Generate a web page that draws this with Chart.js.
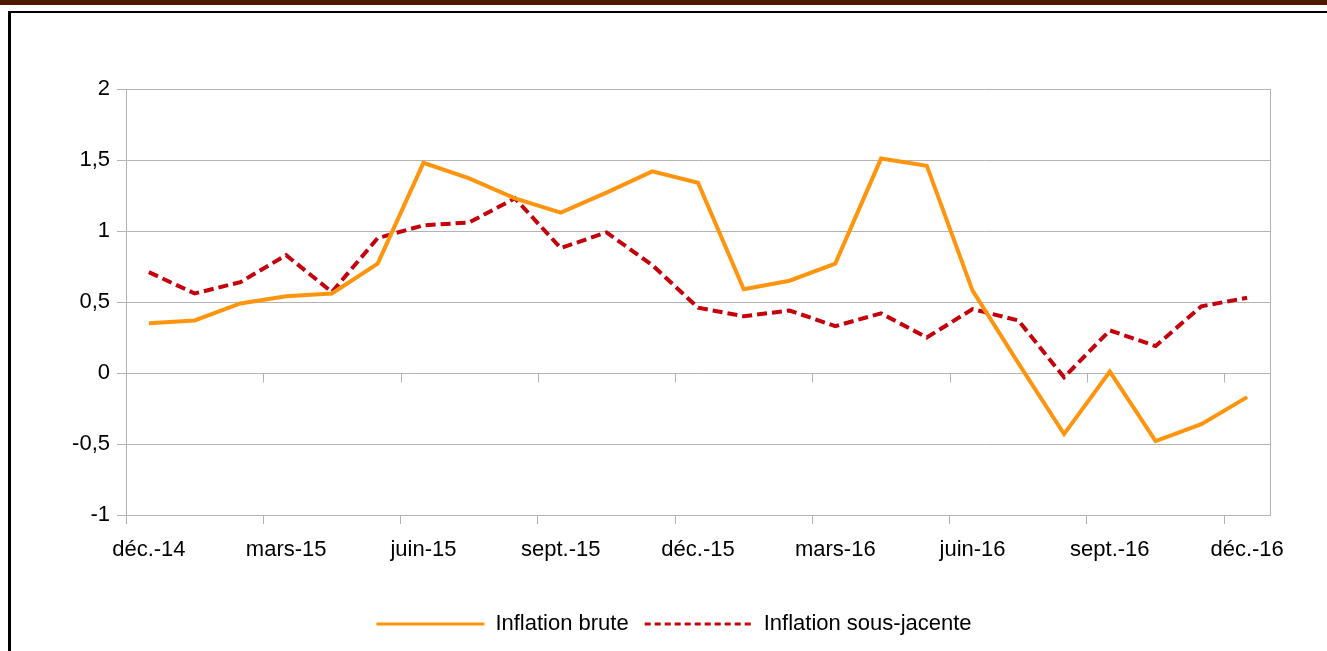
<!DOCTYPE html>
<html lang="fr">
<head>
<meta charset="utf-8">
<title>Inflation brute et sous-jacente</title>
<script src="https://cdn.jsdelivr.net/npm/chart.js@4/dist/chart.umd.min.js"></script>
<style>
	html, body { margin: 0; padding: 0; background: #fff; overflow: hidden; }
	#bandeau { position: absolute; left: 0; top: 0; width: 1327px; height: 5px; background: #4a1900; }
	#cadre { position: absolute; left: 8px; top: 11px; width: 1400px; height: 700px;
		border-left: 3px solid #000; border-top: 2px solid #000; box-sizing: border-box; }
	#zone { position: absolute; left: 0; top: 0; width: 1327px; height: 651px; }
</style>
</head>
<body>
<div id="bandeau"></div>
<div id="cadre"></div>
<div id="zone"><canvas id="graphique" width="1327" height="651"></canvas></div>
<script>
// Mois (une étiquette affichée sur trois)
const mois = [
	'déc.-14', 'janv.-15', 'févr.-15', 'mars-15', 'avr.-15', 'mai-15', 'juin-15',
	'juil.-15', 'août-15', 'sept.-15', 'oct.-15', 'nov.-15', 'déc.-15',
	'janv.-16', 'févr.-16', 'mars-16', 'avr.-16', 'mai-16', 'juin-16',
	'juil.-16', 'août-16', 'sept.-16', 'oct.-16', 'nov.-16', 'déc.-16'
];

// Valeurs (en %)
const inflationBrute = [
	0.35, 0.37, 0.49, 0.54, 0.56, 0.77, 1.48, 1.37, 1.23, 1.13, 1.27, 1.42, 1.34,
	0.59, 0.65, 0.77, 1.51, 1.46, 0.58, 0.07, -0.43, 0.01, -0.48, -0.36, -0.17
];
const inflationSousJacente = [
	0.71, 0.56, 0.64, 0.83, 0.57, 0.95, 1.04, 1.06, 1.23, 0.88, 0.99, 0.76, 0.46,
	0.40, 0.44, 0.33, 0.42, 0.25, 0.45, 0.37, -0.03, 0.30, 0.19, 0.47, 0.53
];

const axeMin = -1;
const axeMax = 2;
const axePas = 0.5;

const gris = '#b3b3b3';
const police = "'Liberation Sans', Arial, sans-serif";

// petits traits de graduation sur la ligne du zéro
const traitsZero = {
	id: 'traitsZero',
	beforeDatasetsDraw(chart) {
		const x = chart.scales.x, y = chart.scales.y;
		const y0 = Math.round(y.getPixelForValue(0)) + 0.5;
		const pas = x.width / mois.length;
		const ctx = chart.ctx;
		ctx.save();
		ctx.strokeStyle = gris;
		ctx.lineWidth = 1;
		ctx.beginPath();
		for (let i = 0; i < mois.length; i += 3) {
			const px = Math.round(x.getPixelForValue(i) - pas / 2) + 0.5;
			ctx.moveTo(px, y0);
			ctx.lineTo(px, y0 + 9);
		}
		ctx.stroke();
		ctx.restore();
	}
};

// décale un peu la légende vers la droite
const decalageLegende = {
	id: 'decalageLegende',
	afterUpdate(chart) {
		const leg = chart.legend;
		if (!leg) return;
		leg.left += 9;
		leg.right += 9;
		leg.adjustHitBoxes();
	}
};

const tirets = [[], [6, 4]];

new Chart(document.getElementById('graphique'), {
	type: 'line',
	data: {
		labels: mois,
		datasets: [
			{
				label: 'Inflation brute',
				data: inflationBrute,
				borderColor: '#ff950e',
				backgroundColor: '#ff950e',
				borderWidth: 4,
				pointRadius: 0,
				tension: 0
			},
			{
				label: 'Inflation sous-jacente',
				data: inflationSousJacente,
				borderColor: '#c5000b',
				backgroundColor: '#c5000b',
				borderWidth: 4,
				borderDash: [10, 5],
				pointRadius: 0,
				tension: 0
			}
		]
	},
	options: {
		responsive: false,
		devicePixelRatio: 1,
		animation: false,
		layout: { padding: { left: 60, right: 57, top: 89, bottom: 6 } },
		scales: {
			x: {
				offset: true,
				afterFit: function (s) { s.height = 82; },
				grid: {
					offset: true,
					drawOnChartArea: true,
					tickLength: 9,
					color: function (c) { return c.type === 'tick' ? 'rgba(0,0,0,0)' : gris; },
					tickColor: function (c) { return (c.type === 'tick' && c.index % 3 === 0) ? gris : 'rgba(0,0,0,0)'; }
				},
				border: { color: gris },
				ticks: {
					autoSkip: false,
					maxRotation: 0,
					padding: 13,
					color: '#000',
					font: { family: police, size: 22 },
					callback: function (v, i) { return i % 3 === 0 ? mois[i] : ''; }
				}
			},
			y: {
				min: axeMin,
				max: axeMax,
				afterFit: function (s) { s.width = 66; },
				grid: { color: gris, tickLength: 9 },
				border: { color: gris },
				ticks: {
					stepSize: axePas,
					padding: 7,
					color: '#000',
					font: { family: police, size: 22 },
					callback: function (v) { return String(v).replace('.', ','); }
				}
			}
		},
		plugins: {
			tooltip: { enabled: false },
			legend: {
				position: 'bottom',
				labels: {
					usePointStyle: true,
					pointStyle: 'line',
					pointStyleWidth: 108,
					padding: 16,
					color: '#000',
					font: { family: police, size: 22 },
					generateLabels: function (chart) {
						const items = Chart.defaults.plugins.legend.labels.generateLabels(chart);
						items.forEach(function (it, i) {
							it.lineWidth = 3;
							it.lineDash = tirets[i];
						});
						return items;
					}
				}
			}
		}
	},
	plugins: [traitsZero, decalageLegende]
});
</script>
</body>
</html>
